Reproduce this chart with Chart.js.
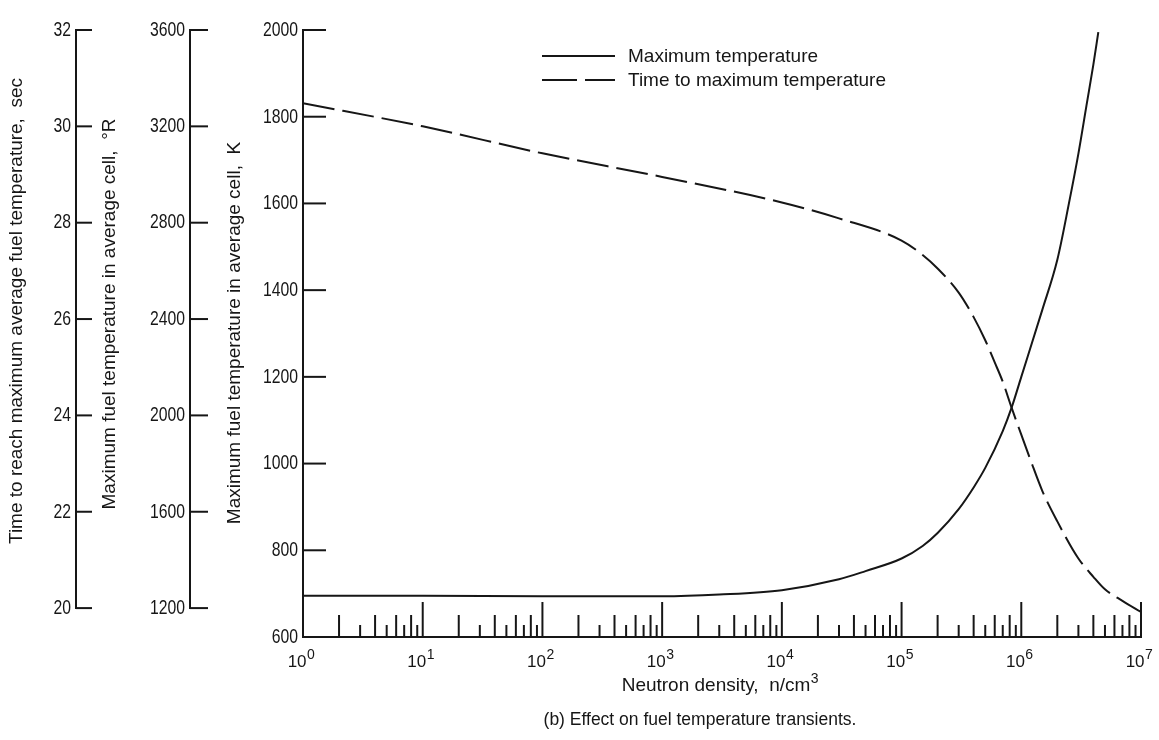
<!DOCTYPE html>
<html>
<head>
<meta charset="utf-8">
<title>Effect on fuel temperature transients</title>
<script src="https://cdn.jsdelivr.net/npm/chart.js@4.4.0/dist/chart.umd.min.js"></script>
<style>
  html, body { margin: 0; padding: 0; background: #fff; }
  #wrap { width: 1159px; height: 740px; }
</style>
</head>
<body>
<div id="wrap"><canvas id="fuelChart" width="1159" height="740"></canvas></div>
<script>
// Maximum temperature (K) against neutron density (n/cm^3)
const maxTempDensity = [1, 10, 100, 1e3, 3e3, 1e4, 3e4, 5e4, 1e5, 1.5e5, 2e5, 3e5, 4e5, 5e5, 7e5, 8.3e5,
    1e6, 1.5e6, 2e6, 2.5e6, 3e6, 3.5e6, 4e6, 4.4e6];
const maxTempK = [695, 695, 694, 694, 698, 708, 733, 752, 781, 810, 840, 895, 945, 990, 1075, 1129,
    1200, 1355, 1470, 1600, 1715, 1825, 1920, 1995];

// Time to maximum temperature (sec) against neutron density
const timeDensity = [1, 10, 100, 1e3, 1e4, 3e4, 1e5, 1.5e5, 2e5, 3e5, 4e5, 5e5, 6e5, 7e5, 8.3e5,
    1e6, 1.2e6, 1.5e6, 2e6, 3e6, 4e6, 5e6, 7e6, 1e7];
const timeSec = [30.48, 30.0, 29.44, 28.95, 28.42, 28.09, 27.63, 27.33, 27.05, 26.55, 26.04, 25.56, 25.1, 24.7, 24.16,
    23.6, 23.06, 22.43, 21.8, 21.03, 20.65, 20.39, 20.15, 19.92];

// tick labels
const kelvinTicks = [600, 800, 1000, 1200, 1400, 1600, 1800, 2000];
const rankineTicks = [1200, 1600, 2000, 2400, 2800, 3200, 3600];
const secTicks = [20, 22, 24, 26, 28, 30, 32];
const decades = [0, 1, 2, 3, 4, 5, 6, 7];

const INK = '#161616';
const FONT = '"Liberation Sans", Arial, sans-serif';

// 600 K -> 1080 R; the sec scale is pinned so that 20 sec sits on 1200 R and 32 sec on 3600 R
const K_MIN = 600, K_MAX = 2000;
const R_MIN = K_MIN * 1.8, R_MAX = K_MAX * 1.8;
const SEC_MIN = 20 - (1200 - R_MIN) / (3600 - 1200) * 12, SEC_MAX = 32;

function drawText(ctx, str, x, y, size, opt) {
    opt = opt || {};
    ctx.save();
    ctx.font = size + 'px ' + FONT;
    ctx.textAlign = opt.align || 'left';
    ctx.textBaseline = opt.baseline || 'alphabetic';
    ctx.translate(x, y);
    if (opt.rotate) ctx.rotate(opt.rotate);
    ctx.scale(opt.sx || 1, 1);
    ctx.fillText(str, 0, 0);
    ctx.restore();
}

function line(ctx, x1, y1, x2, y2) {
    ctx.beginPath();
    ctx.moveTo(x1, y1);
    ctx.lineTo(x2, y2);
    ctx.stroke();
}

// vertical scale with inward ticks and condensed numbers on the left
function drawLeftAxis(ctx, scale, axisX, ticks, tickLen) {
    const top = scale.getPixelForValue(ticks[ticks.length - 1]);
    const bottom = scale.getPixelForValue(ticks[0]);
    line(ctx, axisX, top - 1, axisX, bottom + 1);
    ticks.forEach(t => {
        const y = scale.getPixelForValue(t);
        line(ctx, axisX, y, axisX + tickLen, y);
        drawText(ctx, String(t), axisX - 5, y, 21, { align: 'right', baseline: 'middle', sx: 0.75 });
    });
}

const axesPlugin = {
    id: 'paperAxes',
    afterDraw(chart) {
        const { ctx, chartArea: area, scales } = chart;
        const xs = scales.x;
        ctx.save();
        ctx.strokeStyle = INK;
        ctx.fillStyle = INK;
        ctx.lineWidth = 2;

        drawLeftAxis(ctx, scales.ySec, 76, secTicks, 16);
        drawLeftAxis(ctx, scales.yR, 190, rankineTicks, 18);
        drawLeftAxis(ctx, scales.yK, area.left, kelvinTicks, 23);

        // x axis with upward decade / minor ticks
        const base = scales.yK.getPixelForValue(K_MIN);
        line(ctx, area.left - 1, base, area.right + 1, base);
        decades.forEach(d => {
            for (let m = 1; m <= 9; m++) {
                const v = m * Math.pow(10, d);
                if (v > 1e7) break;
                const px = xs.getPixelForValue(v);
                const h = m === 1 ? 35 : (m % 2 === 0 ? 22 : 12);
                line(ctx, px, base, px, base - h);
            }
        });

        // decade labels 10^n
        decades.forEach(d => {
            const px = xs.getPixelForValue(Math.pow(10, d));
            ctx.font = '17px ' + FONT;
            const wb = ctx.measureText('10').width;
            ctx.font = '14px ' + FONT;
            const we = ctx.measureText(String(d)).width;
            const left = px - (wb + we) / 2 - 2;
            drawText(ctx, '10', left, 667, 17);
            drawText(ctx, String(d), left + wb + 0.5, 659, 14);
        });

        // axis titles
        drawText(ctx, 'Neutron density,  n/cm', 716, 691, 19, { align: 'center' });
        ctx.font = '19px ' + FONT;
        const wt = ctx.measureText('Neutron density,  n/cm').width;
        drawText(ctx, '3', 716 + wt / 2 + 0.5, 683, 14);
        drawText(ctx, '(b) Effect on fuel temperature transients.', 700, 725, 17.5, { align: 'center' });

        const up = -Math.PI / 2;
        drawText(ctx, 'Time to reach maximum average fuel temperature,  sec', 17, 311, 19,
            { align: 'center', baseline: 'middle', rotate: up });
        drawText(ctx, 'Maximum fuel temperature in average cell,  \u00B0R', 110, 314, 19,
            { align: 'center', baseline: 'middle', rotate: up });
        drawText(ctx, 'Maximum fuel temperature in average cell,  K', 235, 333, 19,
            { align: 'center', baseline: 'middle', rotate: up });

        // legend
        line(ctx, 542, 56, 615, 56);
        ctx.setLineDash([35, 8]);
        line(ctx, 542, 80, 615, 80);
        ctx.setLineDash([]);
        drawText(ctx, 'Maximum temperature', 628, 57, 19, { baseline: 'middle' });
        drawText(ctx, 'Time to maximum temperature', 628, 81, 19, { baseline: 'middle' });

        ctx.restore();
    }
};

function buildPoints(xs, ys) {
    return xs.map((x, i) => ({ x: x, y: ys[i] }));
}

const ctx = document.getElementById('fuelChart').getContext('2d');
const fuelChart = new Chart(ctx, {
    type: 'line',
    data: {
        datasets: [
            {
                label: 'Maximum temperature',
                data: buildPoints(maxTempDensity, maxTempK),
                yAxisID: 'yK',
                borderColor: INK,
                borderWidth: 2
            },
            {
                label: 'Time to maximum temperature',
                data: buildPoints(timeDensity, timeSec),
                yAxisID: 'ySec',
                borderColor: INK,
                borderWidth: 2,
                borderDash: [32, 8]
            }
        ]
    },
    options: {
        responsive: false,
        animation: false,
        events: [],
        layout: { padding: { left: 303, top: 30, right: 18, bottom: 103 } },
        plugins: {
            legend: { display: false },
            tooltip: { enabled: false }
        },
        elements: {
            point: { radius: 0 },
            line: { cubicInterpolationMode: 'monotone', fill: false }
        },
        scales: {
            x: { type: 'logarithmic', min: 1, max: 1e7, display: false },
            yK: { type: 'linear', min: K_MIN, max: K_MAX, display: false },
            yR: { type: 'linear', min: R_MIN, max: R_MAX, display: false },
            ySec: { type: 'linear', min: SEC_MIN, max: SEC_MAX, display: false }
        }
    },
    plugins: [axesPlugin]
});
</script>
</body>
</html>
